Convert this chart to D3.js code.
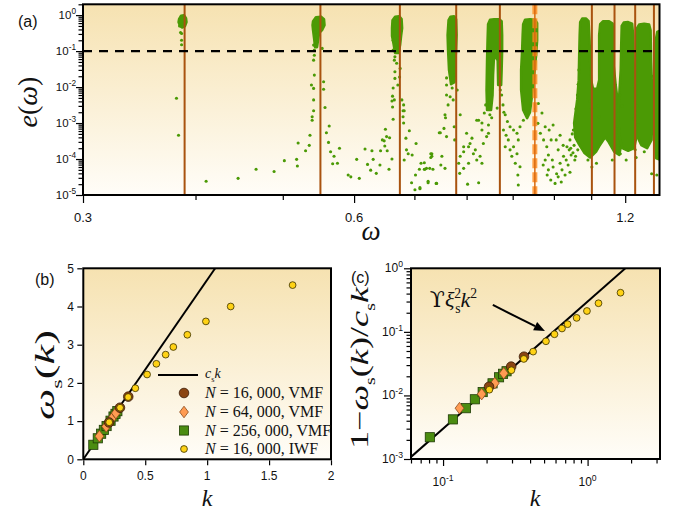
<!DOCTYPE html>
<html><head><meta charset="utf-8">
<script src="https://cdn.jsdelivr.net/npm/d3@7"></script>
<style>body{margin:0;background:#fff}svg{display:block}</style>
</head><body>
<svg id="chart" width="681" height="512"></svg>
<script>
// ================= DATA =================
// Panel (a): e(omega)
const aXTicksMajor = [0.3, 0.6, 1.2];
const aXTickLabels = ["0.3", "0.6", "1.2"];
const aXTicksMinor = [0.4, 0.5, 0.7, 0.8, 0.9, 1.0, 1.1];
const aYTicksMajor = [1, 1e-1, 1e-2, 1e-3, 1e-4, 1e-5];
const aYTickExp = ["0", "-1", "-2", "-3", "-4", "-5"];
const aThreshold = 0.1;
const aResonances = [0.389, 0.5505, 0.6745, 0.779, 0.871, 1.102, 1.1677, 1.231, 1.2915];
const aDashedResonance = 0.9525;

// sparse points [omega, e]
const aScatter = [
[0.384,0.50],[0.385,0.33],[0.386,0.31],[0.386,0.20],[0.386,0.15],[0.381,0.0049],[0.383,4.6e-4],
[0.411,2.4e-5],[0.446,2.9e-5],[0.467,5.2e-5],[0.489,4.5e-5],[0.502,9.0e-5],
[0.543,0.34],[0.544,0.225],[0.541,0.147],[0.542,0.077],[0.541,0.056],[0.542,0.0215],[0.538,0.0114],[0.541,0.0092],[0.541,0.0044],[0.541,0.0022],[0.539,0.0015],[0.539,0.0012],[0.536,4.6e-4],[0.535,2.4e-4],[0.530,1.7e-4],[0.520,2.8e-4],[0.518,9.8e-5],[0.519,6.4e-5],[0.553,0.119],[0.555,0.014],[0.555,0.0087],[0.557,0.0027],[0.563,8.3e-4],[0.559,5.4e-4],[0.562,2.9e-4],[0.565,1.6e-4],[0.570,1.2e-4],[0.568,7.4e-5],[0.575,7.6e-5],[0.578,2.0e-4],[0.591,3.6e-5],[0.595,3.2e-5],[0.608,2.9e-5],[0.604,9.8e-5],[0.617,1.9e-4],[0.628,1.7e-4],[0.621,7.1e-5],[0.630,9.8e-5],[0.635,4.0e-5],[0.626,4.9e-5],[0.641,6.8e-5],[0.642,1.7e-4],[0.648,3.2e-4],[0.652,4.2e-4],[0.657,3.9e-4],[0.650,6.7e-4],[0.645,3.4e-4],[0.653,1.7e-4],[0.661,1.0e-4],[0.656,5.2e-5],[0.649,2.3e-4],[0.546,0.28],[0.544,0.178],[0.542,0.107],
[0.663,0.107],[0.666,0.070],[0.669,0.046],[0.666,0.0266],[0.675,0.033],[0.674,0.019],[0.666,0.0174],[0.662,0.0056],[0.661,0.0041],[0.665,0.0044],[0.662,0.0028],[0.663,0.00127],[0.678,0.0044],[0.681,0.0032],[0.680,0.0022],[0.682,0.0022],[0.680,0.0015],[0.681,0.0010],[0.685,3.8e-4],[0.691,6.1e-4],[0.686,1.8e-4],[0.689,1.4e-4],[0.696,1.3e-4],[0.682,9.4e-5],[0.703,2.7e-4],[0.712,7.6e-5],[0.718,7.9e-5],[0.709,5.2e-5],[0.718,5.2e-5],[0.722,5.5e-5],[0.702,3.6e-5],[0.695,2.2e-5],[0.701,1.4e-5],[0.710,1.5e-5],[0.725,2.2e-5],[0.730,1.4e-4],[0.730,1.1e-4],[0.746,5.4e-4],[0.740,2.1e-5],[0.663,0.20],[0.668,0.147],[0.671,0.23],[0.665,0.056],[0.671,0.0114],[0.663,0.0094],
[0.760,0.018],[0.760,0.0114],[0.760,0.0060],[0.767,0.0054],[0.757,0.0017],[0.755,7.1e-4],[0.760,4.2e-4],[0.748,5.4e-4],[0.758,0.0014],[0.787,0.0017],[0.775,7.9e-4],[0.776,3.4e-4],[0.787,1.2e-4],[0.784,7.6e-5],[0.786,4.0e-5],[0.794,2.2e-4],[0.800,5.2e-4],[0.794,1.6e-4],[0.804,2.2e-4],[0.807,2.7e-4],[0.811,3.8e-4],[0.814,1.4e-4],[0.818,1.8e-4],[0.821,9.4e-5],[0.828,1.2e-4],[0.832,7.6e-5],[0.825,0.0012],[0.832,6.4e-4],[0.835,2.7e-4],[0.842,4.2e-4],[0.846,5.2e-4],[0.802,2.0e-5],[0.825,2.2e-5],[0.794,5.5e-5],[0.804,7.6e-5],[0.751,1.2e-4],[0.732,1.4e-4],[0.732,1.2e-4],[0.719,5.2e-5],[0.728,5.5e-5],[0.734,5.2e-5],[0.749,6.8e-5],[0.757,5.5e-5],[0.725,2.4e-5],[0.741,2.1e-5],[0.710,1.6e-5],[0.771,0.0094],[0.776,0.0215],[0.773,0.0044],[0.763,0.0032],[0.781,0.0083],
[0.821,0.0012],[0.832,0.0010],[0.837,0.0019],[0.849,0.0017],[0.844,0.0044],[0.872,0.0083],[0.875,0.0060],[0.878,0.0032],[0.880,0.0020],[0.865,0.0026],[0.840,0.0032],[0.853,0.0014],[0.846,8.8e-4],
[0.883,0.0017],[0.888,0.0011],[0.879,6.4e-4],[0.885,4.6e-4],[0.890,3.4e-4],[0.883,2.2e-4],[0.894,1.8e-4],[0.902,2.2e-4],[0.898,1.2e-4],[0.910,1.4e-4],[0.906,7.6e-5],[0.917,6.1e-5],[0.912,3.6e-5],[0.913,1.9e-5],[0.910,5.2e-4],[0.917,7.9e-4],[0.925,0.0012],[0.913,3.4e-4],[0.902,6.4e-4],[0.894,7.9e-4],[0.961,0.0035],[0.970,0.0019],[0.960,9.8e-4],[0.966,5.2e-4],[0.978,7.9e-4],[0.974,3.4e-4],
[0.982,2.2e-4],[0.986,5.0e-5],[0.992,2.6e-5],[1.003,2.1e-5],[1.007,3.9e-5],[1.016,7.6e-5],[1.025,1.2e-4],[1.034,2.2e-4],[1.042,3.4e-4],[1.051,6.4e-4],[1.060,0.0015],[0.996,9.4e-5],[1.011,1.8e-4],[0.978,9.4e-5],[0.986,1.3e-4],[0.998,6.0e-5],[1.021,5.0e-5],[1.029,3.6e-5],[1.037,6.8e-5],[1.045,1.3e-4],[1.006,3.4e-4],[1.016,4.6e-4],[1.024,2.4e-4],[0.993,3.4e-4],[0.988,6.4e-4],[0.998,8.8e-4],[1.011,3.2e-5],[1.019,2.3e-5],[0.983,3.6e-5],[0.973,6.8e-5],[1.040,1.8e-4],[1.053,2.4e-4],[1.061,3.9e-4],[1.032,9.4e-5],[1.042,4.3e-5],[1.055,9.4e-5],[1.063,1.8e-4],
[1.091,9.4e-5],[1.102,6.0e-5],[1.115,7.6e-5],[1.179,2.4e-4],[1.185,1.4e-4],[1.231,1.8e-4],[1.234,1.1e-4],[1.284,3.9e-5],[1.300,1.4e-4],[1.301,3.6e-5],[1.161,9.4e-5],[1.203,9.4e-5],[1.260,1.6e-4],
[1.048,5.0e-4],[1.055,0.0010],[1.058,0.0025],[1.062,0.006],[1.064,0.012],[1.066,0.03],[1.044,2.0e-4],[1.05,1.5e-4],[1.057,1.2e-4],
[1.097,0.004],[1.101,0.0025],[1.12,0.003],[1.123,0.0015],[1.19,0.003],[1.183,0.006],[1.175,0.0008],[1.236,0.003],[1.24,0.0009],[1.226,0.0013],[1.289,0.002],[1.292,0.0005],[1.288,0.02]
];

// dense point clouds, outlined as [omega, e] contours
const aBlobA = [[0.3835,0.774],[0.3855,0.969],[0.3884,1.0],[0.3904,0.825],[0.3909,0.639],[0.3894,0.495],[0.3865,0.45],[0.3845,0.495],[0.383,0.639]];
const aBlobB = [[0.5402,0.681],[0.5444,0.88],[0.5514,0.909],[0.5556,0.774],[0.5563,0.527],[0.5528,0.383],[0.5486,0.316],[0.5472,0.202],[0.5458,0.129],[0.543,0.129],[0.5416,0.229],[0.5402,0.383],[0.5395,0.527]];
const aBlobC = [[0.6619,0.726],[0.6663,0.909],[0.6732,0.938],[0.6775,0.774],[0.6784,0.435],[0.6766,0.261],[0.6749,0.147],[0.6723,0.088],[0.6663,0.088],[0.6637,0.157],[0.6611,0.261],[0.6611,0.435]];
const aBlobD = [[0.7639,0.726],[0.7677,0.909],[0.7748,0.938],[0.7788,0.774],[0.7798,0.278],[0.7788,0.107],[0.7767,0.0408],[0.7758,0.0138],[0.7687,0.0121],[0.7648,0.0297],[0.7629,0.107],[0.762,0.278]];
const aBlobE = [[0.8451,0.562],[0.8493,0.75],[0.8582,0.774],[0.8694,0.774],[0.875,0.681],[0.8761,0.278],[0.8761,0.107],[0.875,0.0297],[0.8739,0.0114],[0.8672,0.0114],[0.8661,0.056],[0.8582,0.0774],[0.856,0.0215],[0.8549,0.006],[0.8516,0.0023],[0.8429,0.0023],[0.8418,0.0083],[0.8429,0.056],[0.844,0.202]];
const aBlobF = [[0.9244,0.562],[0.9291,0.75],[0.9408,0.774],[0.9531,0.75],[0.9581,0.599],[0.9581,0.202],[0.9556,0.0774],[0.9507,0.0215],[0.9457,0.006],[0.9408,0.002],[0.9338,0.00137],[0.9244,0.0023],[0.9196,0.0083],[0.9196,0.0297],[0.922,0.107],[0.9232,0.278]];
const aBandGH = [[1.0695,0.64],[1.075,0.80],[1.086,0.80],[1.0928,0.68],[1.0956,0.20],[1.097,0.056],[1.0997,0.0156],[1.1054,0.009],[1.117,0.009],[1.1227,0.0156],[1.1227,0.056],[1.1227,0.28],[1.1256,0.56],[1.1342,0.68],[1.1515,0.68],[1.1621,0.58],[1.1636,0.20],[1.1651,0.041],[1.1712,0.0114],[1.1787,0.0032],[1.1848,8.8e-4],[1.1878,2.45e-4],[1.1818,1.3e-4],[1.1666,1.6e-4],[1.150,3.0e-4],[1.140,4.0e-4],[1.1256,2.5e-4],[1.1141,1.6e-4],[1.097,1.1e-4],[1.0805,1.5e-4],[1.0668,2.5e-4],[1.056,4.0e-4],[1.0531,1.0e-3],[1.0613,0.0044],[1.0654,0.0156],[1.0668,0.077],[1.0681,0.28]];
const aBandI = [[1.1893,0.50],[1.1954,0.62],[1.2091,0.64],[1.2214,0.58],[1.2246,0.28],[1.2262,0.056],[1.2278,0.0114],[1.2326,0.0023],[1.2374,5.3e-4],[1.2278,2.0e-4],[1.2091,1.7e-4],[1.1909,2.0e-4],[1.1818,4.6e-4],[1.1787,0.0017],[1.1818,0.006],[1.1863,0.030],[1.1878,0.147]];
const aBandJ = [[1.2374,0.44],[1.2438,0.55],[1.2597,0.58],[1.2757,0.55],[1.2805,0.38],[1.2822,0.056],[1.2854,0.0083],[1.2854,0.0012],[1.2838,3.4e-4],[1.2693,2.0e-4],[1.2502,2.45e-4],[1.2358,4.6e-4],[1.231,0.0017],[1.2342,0.0083],[1.2358,0.056],[1.2374,0.20]];
const aBandK = [[1.2974,0.20],[1.3025,0.34],[1.315,0.38],[1.315,9.4e-5],[1.299,1.05e-4],[1.2942,6.4e-4],[1.2958,0.0083],[1.2958,0.056]];

// Panel (b)/(c): dispersion
const circK = [0.208, 0.296, 0.363];
const circW = [0.965, 1.35, 1.64];
const circD = [0.0137, 0.0284, 0.0407];
const diamK = [0.13, 0.185, 0.228, 0.263];
const diamW = [0.605, 0.86, 1.055, 1.21];
const diamD = [0.0063, 0.0105, 0.0156, 0.0223];
const sqK = [0.081, 0.117, 0.144, 0.166, 0.188, 0.22, 0.244, 0.26, 0.275];
const sqW = [0.38, 0.55, 0.67, 0.77, 0.87, 1.01, 1.12, 1.19, 1.26];
const sqD = [0.0022, 0.0042, 0.0063, 0.0087, 0.0113, 0.0155, 0.0193, 0.0219, 0.024];
const iwfK = [0.209, 0.297, 0.362, 0.42, 0.515, 0.59, 0.665, 0.727, 0.84, 0.99, 1.19, 1.69];
const iwfW = [0.97, 1.35, 1.63, 1.86, 2.22, 2.50, 2.74, 2.94, 3.26, 3.61, 4.00, 4.56];
const iwfD = [0.0123, 0.0249, 0.0375, 0.0489, 0.0711, 0.0917, 0.113, 0.132, 0.166, 0.213, 0.282, 0.413];
const csLine = [[0, 0], [1.065, 5]];
const quadLine = [[0.06, 0.00108], [1.826, 1.0]];
const bXTicks = [0, 0.5, 1, 1.5, 2];
const bXTickLabels = ["0", "0.5", "1", "1.5", "2"];
const bYTicks = [0, 1, 2, 3, 4, 5];
const cXTicksMajor = [0.1, 1];
const cXTickExp = ["-1", "0"];
const cYTicksMajor = [1, 0.1, 0.01, 0.001];
const cYTickExp = ["0", "-1", "-2", "-3"];
const cArrow = [[0.221, 0.265], [0.507, 0.103]];
const cArrowText = [0.081, 0.247];

// ================= DRAW =================
const SERIF = "'Liberation Serif','DejaVu Serif',serif";
const SANS = "'Liberation Sans',Arial,'DejaVu Sans',sans-serif";
const GREEN = "#4b9a05";
const BROWN = "#a9530f";
const svg = d3.select("#chart");
const defs = svg.append("defs");
const grad = defs.append("linearGradient").attr("id", "bg").attr("x1", 0).attr("y1", 0).attr("x2", 0).attr("y2", 1);
grad.append("stop").attr("offset", "0%").attr("stop-color", "#f6e2b1");
grad.append("stop").attr("offset", "100%").attr("stop-color", "#fffdf8");

function panelBox(box, id) {
  svg.append("rect").attr("x", box.l).attr("y", box.t).attr("width", box.r - box.l).attr("height", box.b - box.t).attr("fill", "url(#bg)");
  defs.append("clipPath").attr("id", id).append("rect").attr("x", box.l).attr("y", box.t).attr("width", box.r - box.l).attr("height", box.b - box.t);
  return svg.append("g").attr("clip-path", `url(#${id})`);
}
function frame(box) {
  svg.append("rect").attr("x", box.l).attr("y", box.t).attr("width", box.r - box.l).attr("height", box.b - box.t)
    .attr("fill", "none").attr("stroke", "#000").attr("stroke-width", 2);
}
function axis(gen, tr) {
  const g = svg.append("g").attr("transform", tr).call(gen);
  g.select(".domain").remove();
  g.selectAll("text").remove();
  g.selectAll("line").attr("stroke", "#000").attr("stroke-width", 1.2);
}
function mtext(x, y, parts, o) {
  const t = svg.append("text").attr("x", x).attr("y", y).attr("font-family", o.family || SERIF)
    .attr("font-size", o.size).attr("text-anchor", o.anchor || "start").attr("fill", "#111");
  if (o.rotate) t.attr("transform", `rotate(-90,${x},${y})`);
  let shift = 0;
  parts.forEach(p => {
    const ts = t.append("tspan").text(p.t);
    if (p.i) ts.attr("font-style", "italic");
    if (p.family) ts.attr("font-family", p.family);
    const target = p.sub ? o.size * 0.28 : p.sup ? -o.size * 0.42 : 0;
    if (target !== shift) { ts.attr("dy", target - shift); shift = target; }
    if (p.sub || p.sup) ts.attr("font-size", o.size * (p.scale || 0.62));
    if (p.dx) ts.attr("dx", p.dx);
  });
  if (o.len) t.attr("textLength", o.len).attr("lengthAdjust", "spacingAndGlyphs");
  return t;
}
function powLabel(x, y, exp, size, anchor) {
  return mtext(x, y, [{t: "10"}, {t: exp, sup: true, scale: 0.72}], {size: size, anchor: anchor, family: SANS});
}

// ---------- Panel (a) ----------
const A = {l: 83, r: 659.5, t: 4.3, b: 195};
const xa = d3.scaleLog().domain([0.3, 1.31]).range([A.l, A.r]);
const ya = d3.scaleLog().domain([1e-5, 2]).range([A.b, A.t]);
const ga = panelBox(A, "clipA");
const blobLine = d3.line().x(d => xa(d[0])).y(d => ya(d[1])).curve(d3.curveLinearClosed);
ga.selectAll("path.blob").data([aBlobA, aBlobB, aBlobC, aBlobD, aBlobE, aBlobF, aBandGH, aBandI, aBandJ, aBandK])
  .join("path").attr("class", "blob").attr("d", blobLine)
  .attr("fill", GREEN).attr("stroke", GREEN).attr("stroke-width", 2.5).attr("stroke-linejoin", "round");
ga.selectAll("circle.pt").data(aScatter).join("circle").attr("class", "pt")
  .attr("cx", d => xa(d[0])).attr("cy", d => ya(d[1])).attr("r", 1.55).attr("fill", GREEN);
// orange dashed resonance
ga.append("line").attr("x1", xa(aDashedResonance)).attr("x2", xa(aDashedResonance)).attr("y1", A.t).attr("y2", A.b)
  .attr("stroke", "#ff8a1c").attr("stroke-width", 5).attr("stroke-dasharray", "10,4").attr("opacity", 0.8);
ga.append("line").attr("x1", xa(aDashedResonance)).attr("x2", xa(aDashedResonance)).attr("y1", A.t).attr("y2", A.b)
  .attr("stroke", "#d86a10").attr("stroke-width", 1.5);
ga.selectAll("line.res").data(aResonances).join("line").attr("class", "res")
  .attr("x1", d => xa(d)).attr("x2", d => xa(d)).attr("y1", A.t).attr("y2", A.b)
  .attr("stroke", BROWN).attr("stroke-width", 2);
ga.append("line").attr("x1", A.l).attr("x2", A.r).attr("y1", ya(aThreshold)).attr("y2", ya(aThreshold))
  .attr("stroke", "#000").attr("stroke-width", 2.4).attr("stroke-dasharray", "9,7");
frame(A);
axis(d3.axisBottom(xa).tickValues(aXTicksMajor).tickSize(7).tickSizeOuter(0), `translate(0,${A.b + 1})`);
axis(d3.axisBottom(xa).tickValues(aXTicksMinor).tickSize(4).tickSizeOuter(0), `translate(0,${A.b + 1})`);
axis(d3.axisLeft(ya).tickValues(aYTicksMajor).tickSize(6).tickSizeOuter(0), `translate(${A.l - 1},0)`);
axis(d3.axisLeft(ya).tickValues(ya.ticks().filter(v => !aYTicksMajor.some(m => Math.abs(m - v) / v < 1e-6))).tickSize(3.5).tickSizeOuter(0), `translate(${A.l - 1},0)`);
aXTicksMajor.forEach((v, i) => mtext(xa(v), 222, [{t: aXTickLabels[i]}], {size: 13, anchor: "middle", family: SANS}));
aYTicksMajor.forEach((v, i) => powLabel(76, ya(v) + 4, aYTickExp[i], 11.5, "end"));
mtext(371, 240, [{t: "ω", i: true}], {size: 27, anchor: "middle"});
mtext(37, 102, [{t: "e", i: true}, {t: "("}, {t: "ω", i: true}, {t: ")"}], {size: 28, anchor: "middle", rotate: true});
mtext(18, 27, [{t: "(a)"}], {size: 16, family: SANS});

// ---------- Panel (b) ----------
const B = {l: 83.3, r: 331, t: 268.3, b: 459.3};
const xb = d3.scaleLinear().domain([0, 2]).range([B.l, B.r]);
const yb = d3.scaleLinear().domain([0, 5]).range([B.b, B.t]);
const gb = panelBox(B, "clipB");
function markers(g, xs, ys, vs) {
  g.selectAll(null).data(d3.range(sqK.length)).join("rect")
    .attr("x", i => xs(sqK[i]) - 4.6).attr("y", i => ys(vs.sq[i]) - 4.6).attr("width", 9.2).attr("height", 9.2)
    .attr("fill", "#4b8c10").attr("stroke", "#1f3b06").attr("stroke-width", 0.8);
  g.selectAll(null).data(d3.range(diamK.length)).join("path")
    .attr("d", i => { const cx = xs(diamK[i]), cy = ys(vs.dm[i]); return `M${cx},${cy - 5.8}L${cx + 4.4},${cy}L${cx},${cy + 5.8}L${cx - 4.4},${cy}Z`; })
    .attr("fill", "#ff9b52").attr("stroke", "#8a4a1a").attr("stroke-width", 0.8);
  g.selectAll(null).data(d3.range(circK.length)).join("circle")
    .attr("cx", i => xs(circK[i])).attr("cy", i => ys(vs.ci[i])).attr("r", 4.8)
    .attr("fill", "#8b4512").attr("stroke", "#3a1c06").attr("stroke-width", 0.8);
  g.selectAll(null).data(d3.range(iwfK.length)).join("circle")
    .attr("cx", i => xs(iwfK[i])).attr("cy", i => ys(vs.iw[i])).attr("r", 3.4)
    .attr("fill", "#ffd215").attr("stroke", "#3a3000").attr("stroke-width", 0.8);
}
gb.append("line").attr("x1", xb(csLine[0][0])).attr("y1", yb(csLine[0][1])).attr("x2", xb(csLine[1][0])).attr("y2", yb(csLine[1][1]))
  .attr("stroke", "#000").attr("stroke-width", 2);
markers(gb, xb, yb, {sq: sqW, dm: diamW, ci: circW, iw: iwfW});
frame(B);
axis(d3.axisBottom(xb).tickValues(bXTicks).tickSize(5).tickSizeOuter(0), `translate(0,${B.b + 1})`);
axis(d3.axisLeft(yb).tickValues(bYTicks).tickSize(5).tickSizeOuter(0), `translate(${B.l - 1},0)`);
bXTicks.forEach((v, i) => mtext(xb(v), 480, [{t: bXTickLabels[i]}], {size: 12, anchor: "middle", family: SANS}));
bYTicks.forEach(v => mtext(74, yb(v) + 4.3, [{t: String(v)}], {size: 12, anchor: "end", family: SANS}));
mtext(207, 506, [{t: "k", i: true}], {size: 24, anchor: "middle"});
mtext(54, 375, [{t: "ω", i: true}, {t: "s", sub: true, scale: 0.55}, {t: "("}, {t: "k", i: true}, {t: ")"}], {size: 27, anchor: "middle", rotate: true, len: 90});
mtext(35, 285, [{t: "(b)"}], {size: 16, family: SANS});
// legend
svg.append("line").attr("x1", 158).attr("x2", 198).attr("y1", 375).attr("y2", 375).attr("stroke", "#000").attr("stroke-width", 2);
mtext(205, 378, [{t: "c", i: true}, {t: "s", sub: true, scale: 0.6}, {t: "k", i: true}], {size: 14});
const legRows = [
  {y: 393, type: "c", lab: "16, 000,  VMF"},
  {y: 412, type: "d", lab: "64, 000,  VMF"},
  {y: 430.5, type: "s", lab: "256, 000,  VMF"},
  {y: 449, type: "y", lab: "16, 000,  IWF"}
];
legRows.forEach(r => {
  const cx = 184;
  if (r.type === "c") svg.append("circle").attr("cx", cx).attr("cy", r.y).attr("r", 4.8).attr("fill", "#8b4512").attr("stroke", "#3a1c06").attr("stroke-width", 0.8);
  if (r.type === "d") svg.append("path").attr("d", `M${cx},${r.y - 5.8}L${cx + 4.4},${r.y}L${cx},${r.y + 5.8}L${cx - 4.4},${r.y}Z`).attr("fill", "#ff9b52").attr("stroke", "#8a4a1a").attr("stroke-width", 0.8);
  if (r.type === "s") svg.append("rect").attr("x", cx - 4.6).attr("y", r.y - 4.6).attr("width", 9.2).attr("height", 9.2).attr("fill", "#4b8c10").attr("stroke", "#1f3b06").attr("stroke-width", 0.8);
  if (r.type === "y") svg.append("circle").attr("cx", cx).attr("cy", r.y).attr("r", 3.4).attr("fill", "#ffd215").attr("stroke", "#3a3000").attr("stroke-width", 0.8);
  mtext(205, r.y + 5, [{t: "N", i: true}, {t: " = "}, {t: r.lab}], {size: 16});
});

// ---------- Panel (c) ----------
const C = {l: 411, r: 660, t: 268.3, b: 459};
const xc = d3.scaleLog().domain([0.06, 3.17]).range([C.l, C.r]);
const yc = d3.scaleLog().domain([1e-3, 1]).range([C.b, C.t]);
const gc = panelBox(C, "clipC");
gc.append("line").attr("x1", xc(quadLine[0][0])).attr("y1", yc(quadLine[0][1])).attr("x2", xc(quadLine[1][0])).attr("y2", yc(quadLine[1][1]))
  .attr("stroke", "#000").attr("stroke-width", 2);
markers(gc, xc, yc, {sq: sqD, dm: diamD, ci: circD, iw: iwfD});
frame(C);
axis(d3.axisBottom(xc).tickValues(cXTicksMajor).tickSize(6).tickSizeOuter(0), `translate(0,${C.b + 1})`);
axis(d3.axisBottom(xc).tickValues(xc.ticks().filter(v => !cXTicksMajor.some(m => Math.abs(m - v) / v < 1e-6))).tickSize(3.5).tickSizeOuter(0), `translate(0,${C.b + 1})`);
axis(d3.axisLeft(yc).tickValues(cYTicksMajor).tickSize(6).tickSizeOuter(0), `translate(${C.l - 1},0)`);
axis(d3.axisLeft(yc).tickValues(yc.ticks().filter(v => !cYTicksMajor.some(m => Math.abs(m - v) / v < 1e-6))).tickSize(3.5).tickSizeOuter(0), `translate(${C.l - 1},0)`);
cXTicksMajor.forEach((v, i) => powLabel(xc(v), 486, cXTickExp[i], 12, "middle"));
cYTicksMajor.forEach((v, i) => powLabel(403, yc(v) + 4, cYTickExp[i], 12, "end"));
mtext(535, 506, [{t: "k", i: true}], {size: 24, anchor: "middle"});
mtext(368, 368, [{t: "1"}, {t: "−"}, {t: "ω", i: true}, {t: "s", sub: true, scale: 0.55}, {t: "("}, {t: "k", i: true}, {t: ")"}, {t: "/"}, {t: "c", i: true}, {t: "s", sub: true, scale: 0.55}, {t: "k", i: true}], {size: 25, anchor: "middle", rotate: true, len: 162});
mtext(351, 283, [{t: "(c)"}], {size: 16, family: SANS});
// annotation
const ax0 = xc(cArrow[0][0]), ay0 = yc(cArrow[0][1]), ax1 = xc(cArrow[1][0]), ay1 = yc(cArrow[1][1]);
const ang = Math.atan2(ay1 - ay0, ax1 - ax0);
const hl = 11, hw = 4.5;
const bx = ax1 - hl * Math.cos(ang), by = ay1 - hl * Math.sin(ang);
svg.append("line").attr("x1", ax0).attr("y1", ay0).attr("x2", bx).attr("y2", by).attr("stroke", "#000").attr("stroke-width", 2);
svg.append("path").attr("d", `M${ax1},${ay1}L${bx - hw * Math.sin(ang)},${by + hw * Math.cos(ang)}L${bx + hw * Math.sin(ang)},${by - hw * Math.cos(ang)}Z`).attr("fill", "#000");
mtext(xc(cArrowText[0]), yc(cArrowText[1]), [{t: "ϒ", family: "'DejaVu Serif',serif"}, {t: "ξ", i: true}, {t: "2", sup: true, scale: 0.62}, {t: "s", sub: true, scale: 0.62, dx: -6}, {t: "k", i: true}, {t: "2", sup: true, scale: 0.62}], {size: 22});
</script>
</body></html>
